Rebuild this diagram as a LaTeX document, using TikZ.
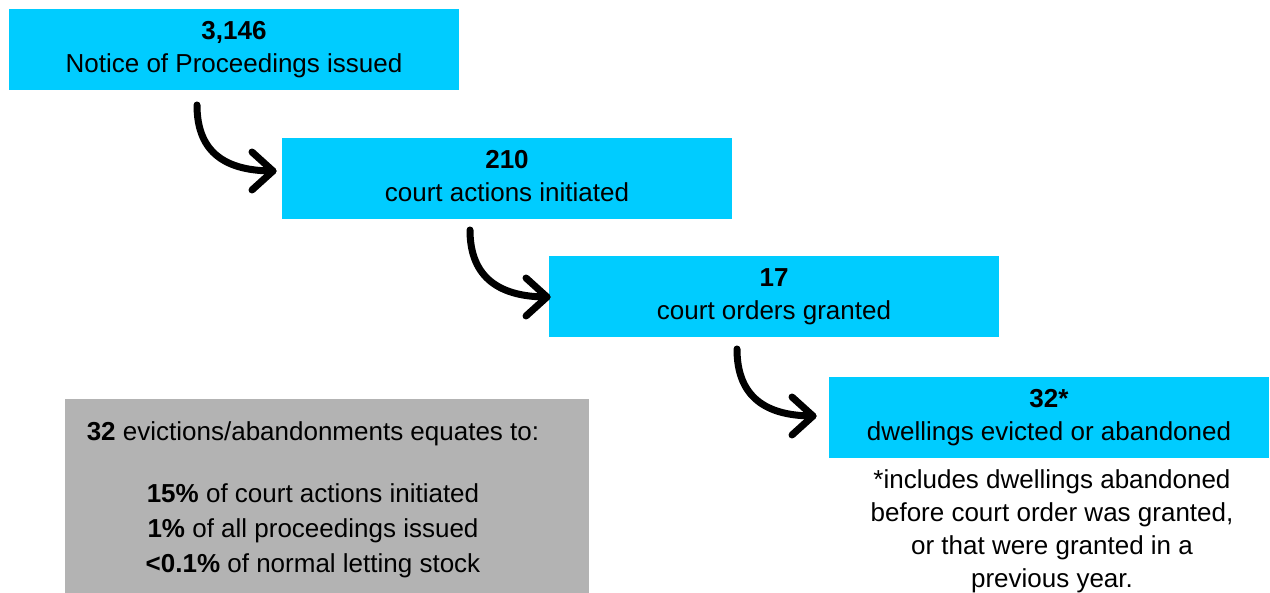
\documentclass[tikz,border=0pt]{standalone}
\usepackage{fontspec}
\setmainfont{Liberation Sans}
\usetikzlibrary{calc}
\definecolor{boxcyan}{HTML}{00CCFF}
\definecolor{boxgray}{HTML}{B3B3B3}
\newcommand\ls{\rule[-6pt]{0pt}{25pt}}
\tikzset{
  stagebox/.style={fill=boxcyan, draw=none, minimum height=81pt, inner sep=0pt, align=center,
    font=\fontsize{26}{33}\selectfont},
  flowarrow/.style={line width=7pt, line cap=round, line join=round, black},
  plaintext/.style={inner sep=0pt, align=center, anchor=north}
}
\begin{document}
\begin{tikzpicture}[x=1pt,y=-1pt]
\useasboundingbox (0,0) rectangle (1270,593);
\node[stagebox, minimum width=450pt] (b1) at (234,49.5) {\textbf{3,146}\ls\\Notice of Proceedings issued\ls};
\node[stagebox, minimum width=450pt] (b2) at (507,178.5) {\textbf{210}\ls\\court actions initiated\ls};
\node[stagebox, minimum width=450pt] (b3) at (774,296.5) {\textbf{17}\ls\\court orders granted\ls};
\node[stagebox, minimum width=440pt] (b4) at (1049,417.5) {\textbf{32*}\ls\\dwellings evicted or abandoned\ls};
\node[fill=boxgray, minimum width=524pt, minimum height=194pt, inner sep=0pt] (gbox) at (327,496) {};
\node[plaintext, font=\fontsize{26}{35}\selectfont] (gtext) at (313,421)
  {\textbf{32} evictions/abandonments equates to:\ls\\[27pt]
   \textbf{15\%} of court actions initiated\ls\\
   \textbf{1\%} of all proceedings issued\ls\\
   \textbf{<0.1\%} of normal letting stock\ls};
\node[plaintext, font=\fontsize{26}{33}\selectfont] (note) at (1052,469)
  {*includes dwellings abandoned\ls\\
   before court order was granted,\ls\\
   or that were granted in a\ls\\
   previous year.\ls};
% arrows
\coordinate (a1s) at (197,105); \coordinate (a1e) at (273,171);
\coordinate (a2s) at (470,230); \coordinate (a2e) at (547,297);
\coordinate (a3s) at (737,349); \coordinate (a3e) at (813,416);
\foreach \s/\e in {a1s/a1e, a2s/a2e, a3s/a3e}{
  \draw[flowarrow] (\s) .. controls ($(\s)+(0,43)$) and ($(\e)+(-53,0)$) .. (\e);
  \draw[flowarrow] ($(\e)+(-21,-19)$) -- (\e) -- ($(\e)+(-21,19)$);
}
\end{tikzpicture}
\end{document}
